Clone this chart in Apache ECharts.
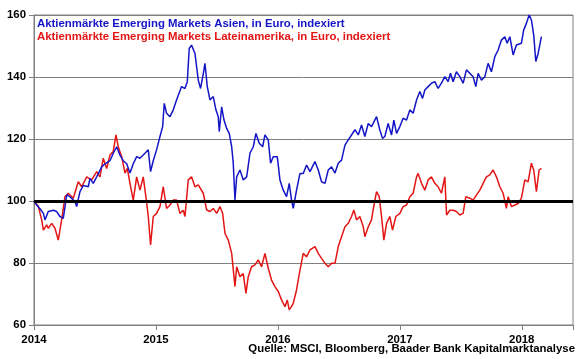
<!DOCTYPE html>
<html><head><meta charset="utf-8">
<script src="https://cdn.jsdelivr.net/npm/echarts@6/dist/echarts.min.js"></script>
<style>html,body{margin:0;padding:0;background:#fff}#c{width:580px;height:359px}</style>
</head><body><div id="c"></div>
<script>
const seriesNames = ["Aktienmärkte Emerging Markets Asien, in Euro, indexiert","Aktienmärkte Emerging Markets Lateinamerika, in Euro, indexiert"];
const sourceText = "Quelle: MSCI, Bloomberg, Baader Bank Kapitalmarktanalyse";
const yTicks = [60,80,100,120,140,160];
const xTicks = [2014,2015,2016,2017,2018];
const baseline = 100;

// decimal year, index value
const asiaYears = [2014.000,2014.022,2014.049,2014.077,2014.090,2014.117,2014.158,2014.186,2014.213,2014.240,2014.254,2014.268,2014.295,2014.336,2014.350,2014.377,2014.404,2014.445,2014.459,2014.486,2014.514,2014.555,2014.582,2014.623,2014.650,2014.678,2014.705,2014.732,2014.760,2014.787,2014.814,2014.842,2014.869,2014.910,2014.937,2014.956,2014.978,2015.005,2015.033,2015.055,2015.068,2015.087,2015.115,2015.142,2015.169,2015.210,2015.238,2015.257,2015.273,2015.292,2015.320,2015.347,2015.366,2015.388,2015.402,2015.421,2015.443,2015.470,2015.492,2015.511,2015.519,2015.539,2015.558,2015.580,2015.601,2015.621,2015.634,2015.648,2015.662,2015.689,2015.716,2015.744,2015.771,2015.798,2015.820,2015.847,2015.875,2015.894,2015.921,2015.940,2015.962,2015.995,2016.017,2016.044,2016.071,2016.093,2016.112,2016.126,2016.153,2016.181,2016.208,2016.235,2016.263,2016.304,2016.331,2016.358,2016.386,2016.413,2016.440,2016.468,2016.495,2016.522,2016.550,2016.577,2016.604,2016.632,2016.659,2016.686,2016.713,2016.741,2016.768,2016.781,2016.809,2016.836,2016.858,2016.877,2016.904,2016.932,2016.951,2016.973,2017.000,2017.027,2017.055,2017.082,2017.109,2017.137,2017.164,2017.186,2017.205,2017.232,2017.259,2017.287,2017.314,2017.341,2017.369,2017.396,2017.415,2017.437,2017.464,2017.492,2017.519,2017.546,2017.574,2017.601,2017.623,2017.642,2017.669,2017.697,2017.724,2017.751,2017.779,2017.806,2017.833,2017.861,2017.880,2017.902,2017.929,2017.956,2017.997,2018.016,2018.038,2018.060,2018.079,2018.098,2018.115,2018.134,2018.161];
const asiaValues = [100,98.7,97.5,96,93.9,96.6,97,96.6,95,94.4,98,102,101.4,99.8,98.2,103,105,104.6,107.3,105.7,107.8,111,112,113,115.4,117.5,114.8,113,112,109,112,114.3,113.8,115.4,116.5,109.5,113,116.5,120.8,124,131.5,128.3,127.2,129.4,132.6,136.9,136.3,138.5,149.2,150.3,147.6,139,136.3,141,144.4,136.9,132.6,133.7,129.4,127.2,122.4,130.4,126.1,123.4,121.8,117.5,112.2,100.3,107.8,110,106.8,107.8,115.4,117.5,121.8,118.6,117.5,121.3,119.7,112.2,114.3,114.3,106.8,103.5,101.4,105.7,100.3,97.6,103.5,108.9,108.9,111.6,109.5,112.7,110,106.2,105.7,110,111,109,112.2,113.2,118,119.7,121.3,123,121.3,124.5,120.8,125,124,124,127.2,122.9,120.2,120.8,125,121.3,126.1,121.8,124,126.7,126.1,129.4,128.3,132.6,135.3,133.1,135.8,136.9,138,138.5,136.3,138,140.1,138.5,141.2,138.5,141.7,140.1,138,142.3,141.2,140.1,136.9,141.2,139,140.1,144.4,141.7,146.6,148.7,151.9,153,150.9,153,147.1,150.3,150.9,155.2,157.3,160,158.4,153.5,145,147.6,153];

const latamYears = [2014.000,2014.036,2014.063,2014.077,2014.104,2014.117,2014.145,2014.172,2014.199,2014.227,2014.254,2014.281,2014.322,2014.363,2014.391,2014.432,2014.473,2014.514,2014.541,2014.568,2014.596,2014.623,2014.650,2014.672,2014.691,2014.719,2014.746,2014.765,2014.787,2014.814,2014.842,2014.869,2014.896,2014.923,2014.937,2014.956,2014.978,2015.005,2015.033,2015.060,2015.087,2015.115,2015.142,2015.169,2015.197,2015.224,2015.238,2015.265,2015.292,2015.320,2015.347,2015.388,2015.416,2015.443,2015.470,2015.498,2015.525,2015.547,2015.566,2015.593,2015.621,2015.648,2015.662,2015.689,2015.716,2015.738,2015.757,2015.784,2015.812,2015.839,2015.866,2015.894,2015.921,2015.948,2015.976,2016.003,2016.030,2016.058,2016.077,2016.093,2016.112,2016.126,2016.153,2016.181,2016.208,2016.235,2016.263,2016.304,2016.331,2016.358,2016.386,2016.413,2016.440,2016.468,2016.495,2016.522,2016.550,2016.577,2016.604,2016.623,2016.645,2016.672,2016.700,2016.713,2016.741,2016.768,2016.781,2016.809,2016.831,2016.850,2016.869,2016.891,2016.918,2016.940,2016.967,2017.000,2017.027,2017.055,2017.082,2017.109,2017.137,2017.150,2017.178,2017.205,2017.232,2017.259,2017.287,2017.314,2017.341,2017.369,2017.383,2017.410,2017.437,2017.464,2017.492,2017.519,2017.541,2017.574,2017.601,2017.628,2017.656,2017.683,2017.710,2017.738,2017.765,2017.792,2017.820,2017.847,2017.874,2017.888,2017.915,2017.943,2017.970,2017.997,2018.025,2018.052,2018.079,2018.098,2018.120,2018.142,2018.161];
const latamValues = [100,98.2,93.9,90.6,92.3,91.2,92.8,91.2,87.4,94,101.4,102.5,100.9,106.2,104.6,107.8,106.8,109.5,107.8,113.8,110.5,114.8,116,121.3,117.5,114.3,109,110.5,105.7,100.3,107.8,103.5,107.8,99.7,95,85.8,95,96,98.2,104.6,97.6,98.7,100.3,100.3,96,97,95,106.8,107.8,104.6,105.2,102.5,97.1,96.6,97.6,96,98.2,96,89.6,87.4,83.1,72.4,78.8,75.6,76.6,70.2,75.6,78.8,79.4,81,78.8,83.1,78.3,74.5,72.4,70.8,68.1,65.9,68.1,64.9,66,67,71.3,77.7,83.1,82,84.2,85.3,83.1,81.5,79.9,78.8,79.9,79.9,85.3,88.5,91.7,92.8,95,97.1,93.9,95,91.7,88.5,91.7,93.9,97.1,103,101.4,95,87.4,92.8,95,90.6,95,96,98.2,98.7,101.4,102.5,107.8,108.9,105.7,103.5,106.8,107.8,105.7,104.6,102.5,107.8,95.5,97,97,96.6,95.5,96,101.4,100.9,100.3,101.9,103.5,105.7,107.8,108.4,110,107.8,104.6,102.5,97.6,101.4,98.2,98.7,99.2,100.9,106.8,106.2,112.2,110,103,110,110.5];

const asiaData = asiaYears.map((y,i)=>[y, asiaValues[i]]);
const latamData = latamYears.map((y,i)=>[y, latamValues[i]]);

const FONT = '"Liberation Sans", Arial, sans-serif';
const FS = 11.4;
const chart = echarts.init(document.getElementById('c'), null, {renderer:'canvas'});
chart.setOption({
  animation:false,
  backgroundColor:'#fff',
  grid:{left:34, right:7, top:15, bottom:34, show:true, borderColor:'#808080', borderWidth:1, backgroundColor:'transparent'},
  xAxis:{type:'value', min:xTicks[0], max:2018.42, interval:1,
    axisLine:{show:true, onZero:false, lineStyle:{color:'#808080', width:1}},
    axisTick:{show:true, length:5, lineStyle:{color:'#808080'}},
    splitLine:{show:false},
    axisLabel:{color:'#000', fontFamily:FONT, fontWeight:'bold', fontSize:FS, margin:9,
      formatter:v=> xTicks.includes(Math.round(v)) && Math.abs(v-Math.round(v))<1e-6 ? String(Math.round(v)) : ''}},
  yAxis:{type:'value', min:yTicks[0], max:yTicks[yTicks.length-1], interval:20,
    axisLine:{show:true, lineStyle:{color:'#808080', width:1}},
    axisTick:{show:true, length:5, lineStyle:{color:'#808080'}},
    splitLine:{show:true, lineStyle:{color:'#808080', width:1}},
    axisLabel:{color:'#000', fontFamily:FONT, fontWeight:'bold', fontSize:FS, margin:8}},
  series:[
    {name:seriesNames[0], type:'line', data:asiaData, showSymbol:false, symbol:'none',
      lineStyle:{color:'#1515c8', width:1.5}, z:3},
    {name:seriesNames[1], type:'line', data:latamData, showSymbol:false, symbol:'none',
      lineStyle:{color:'#e41515', width:1.5}, z:2,
      markLine:{silent:true, symbol:'none', label:{show:false},
        lineStyle:{color:'#000', width:3, type:'solid'},
        data:[{yAxis:baseline}]}}
  ],
  graphic:[
    {type:'text', left:37, top:18, style:{text:seriesNames[0], fill:'#1515c8', font:'bold '+FS+'px '+FONT}},
    {type:'text', left:37, top:31.5, style:{text:seriesNames[1], fill:'#e41515', font:'bold '+FS+'px '+FONT}},
    {type:'text', right:5, top:343, style:{text:sourceText, fill:'#000', font:'bold '+FS+'px '+FONT}}
  ]
});
</script></body></html>
